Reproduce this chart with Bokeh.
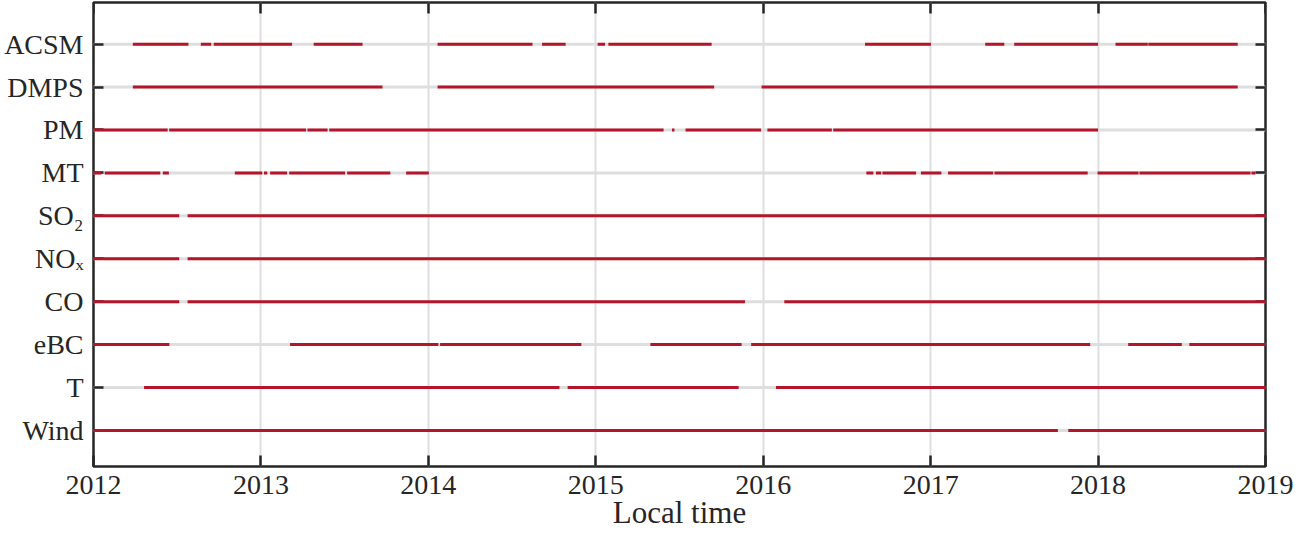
from bokeh.plotting import figure
from bokeh.models import FixedTicker, LinearAxis, Range1d
from bokeh.embed import file_html
from bokeh.resources import INLINE

# ---------------- data (decimal years) ----------------
years = [2012, 2013, 2014, 2015, 2016, 2017, 2018, 2019]
year_labels = ["2012", "2013", "2014", "2015", "2016", "2017", "2018", "2019"]

row_names = ["Wind", "T", "eBC", "CO", "NOx", "SO2", "MT", "PM", "DMPS", "ACSM"]
row_labels = ["Wind", "T", "eBC", "CO", "NO\u2093", "SO\u2082", "MT", "PM", "DMPS", "ACSM"]
row_pos = [1, 2, 3, 4, 5, 6, 7, 8, 9, 10]

acsm_start = [2012.235, 2012.641, 2012.718, 2013.315, 2014.055, 2014.679, 2015.011, 2015.075,
              2016.608, 2017.326, 2017.499, 2018.104, 2018.300]
acsm_end = [2012.567, 2012.703, 2013.186, 2013.607, 2014.622, 2014.820, 2015.055, 2015.692,
            2017.002, 2017.440, 2018.000, 2018.297, 2018.834]

dmps_start = [2012.235, 2014.055, 2015.990]
dmps_end = [2013.726, 2015.707, 2018.834]

pm_start = [2012.000, 2012.452, 2013.278, 2013.408, 2015.455, 2015.536, 2016.025, 2016.418]
pm_end = [2012.443, 2013.270, 2013.398, 2015.405, 2015.470, 2015.987, 2016.410, 2018.000]

mt_start = [2012.000, 2012.067, 2012.414, 2012.844, 2013.018, 2013.055, 2013.169, 2013.515,
            2013.867, 2016.616, 2016.673, 2016.712, 2016.942, 2017.104, 2017.381, 2017.997,
            2018.247, 2018.916]
mt_end = [2012.047, 2012.399, 2012.450, 2013.008, 2013.038, 2013.156, 2013.503, 2013.773,
          2014.003, 2016.658, 2016.705, 2016.913, 2017.064, 2017.374, 2017.938, 2018.242,
          2018.911, 2018.940]

so2_start = [2012.000, 2012.562]
so2_end = [2012.512, 2019.000]

nox_start = [2012.000, 2012.562]
nox_end = [2012.512, 2019.000]

co_start = [2012.000, 2012.562, 2016.126]
co_end = [2012.512, 2015.891, 2019.000]

ebc_start = [2012.000, 2013.174, 2014.070, 2015.326, 2015.928, 2018.180, 2018.545]
ebc_end = [2012.453, 2014.060, 2014.914, 2015.871, 2017.953, 2018.500, 2019.000]

t_start = [2012.302, 2014.832, 2016.076]
t_end = [2014.783, 2015.853, 2019.000]

wind_start = [2012.000, 2017.822]
wind_end = [2017.760, 2019.000]

segments = {
    "ACSM": (acsm_start, acsm_end),
    "DMPS": (dmps_start, dmps_end),
    "PM": (pm_start, pm_end),
    "MT": (mt_start, mt_end),
    "SO2": (so2_start, so2_end),
    "NOx": (nox_start, nox_end),
    "CO": (co_start, co_end),
    "eBC": (ebc_start, ebc_end),
    "T": (t_start, t_end),
    "Wind": (wind_start, wind_end),
}

# ---------------- style ----------------
RED = "#b5152b"
GREY = "#dedede"
DARK = "#262626"
FONT = "Liberation Serif"

p = figure(width=1293, height=532,
           x_range=Range1d(years[0], years[-1]), y_range=Range1d(0.16, 10.97),
           output_backend="svg", toolbar_location=None,
           min_border_left=93, min_border_right=28, min_border_top=2, min_border_bottom=0)
p.outline_line_color = DARK
p.outline_line_width = 2.5
p.outline_line_alpha = 1.0
p.background_fill_color = "white"
p.border_fill_color = "white"

left_ticks = p.left[0]
bottom = p.below[0]
left_labels = LinearAxis()
top_axis = LinearAxis()
right_axis = LinearAxis()
p.add_layout(left_labels, "left")
p.add_layout(top_axis, "above")
p.add_layout(right_axis, "right")


def style_ticks(ax, ticks, length):
    ax.ticker = FixedTicker(ticks=ticks)
    ax.axis_line_color = None
    ax.major_tick_line_color = DARK
    ax.major_tick_line_width = 2.5
    ax.major_tick_in = length
    ax.major_tick_out = 0
    ax.minor_tick_line_color = None


# tick-only axes (drawn beneath the red data lines, above the grey rows)
for ax in [left_ticks, right_axis]:
    style_ticks(ax, row_pos, 10)
    ax.major_label_overrides = {k: "" for k in row_pos}
    ax.major_label_standoff = 0
    ax.level = "underlay"
style_ticks(top_axis, years, 11)
top_axis.major_label_overrides = {k: "" for k in years}
top_axis.major_label_standoff = 0
top_axis.level = "underlay"

# bottom axis with year labels and axis title
style_ticks(bottom, years, 11)
bottom.major_label_overrides = {y: s for y, s in zip(years, year_labels)}
bottom.major_label_text_font = FONT
bottom.major_label_text_font_size = "28px"
bottom.major_label_text_color = DARK
bottom.major_label_standoff = 9
bottom.axis_label = "Local time"
bottom.axis_label_text_font = FONT
bottom.axis_label_text_font_size = "31px"
bottom.axis_label_text_font_style = "normal"
bottom.axis_label_text_color = DARK
bottom.axis_label_standoff = -2

# label-only left axis
left_labels.ticker = FixedTicker(ticks=row_pos)
left_labels.axis_line_color = None
left_labels.major_tick_line_color = None
left_labels.minor_tick_line_color = None
left_labels.major_tick_in = 0
left_labels.major_tick_out = 0
left_labels.major_label_overrides = {k: s for k, s in zip(row_pos, row_labels)}
left_labels.major_label_text_font = FONT
left_labels.major_label_text_font_size = "28px"
left_labels.major_label_text_color = DARK
left_labels.major_label_standoff = 10

p.xgrid.ticker = FixedTicker(ticks=years)
p.xgrid.grid_line_color = GREY
p.xgrid.grid_line_width = 2
p.xgrid.level = "image"
p.ygrid.grid_line_color = None

# grey background lines for each row
p.segment(x0=[years[0]] * len(row_pos), x1=[years[-1]] * len(row_pos),
          y0=row_pos, y1=row_pos, line_color=GREY, line_width=3, level="image")

# red availability segments
for name, pos in zip(row_names, row_pos):
    s, e = segments[name]
    p.segment(x0=s, x1=e, y0=[pos] * len(s), y1=[pos] * len(s),
              line_color=RED, line_width=3, line_cap="butt")

open("out.html", "w").write(file_html(p, INLINE))
